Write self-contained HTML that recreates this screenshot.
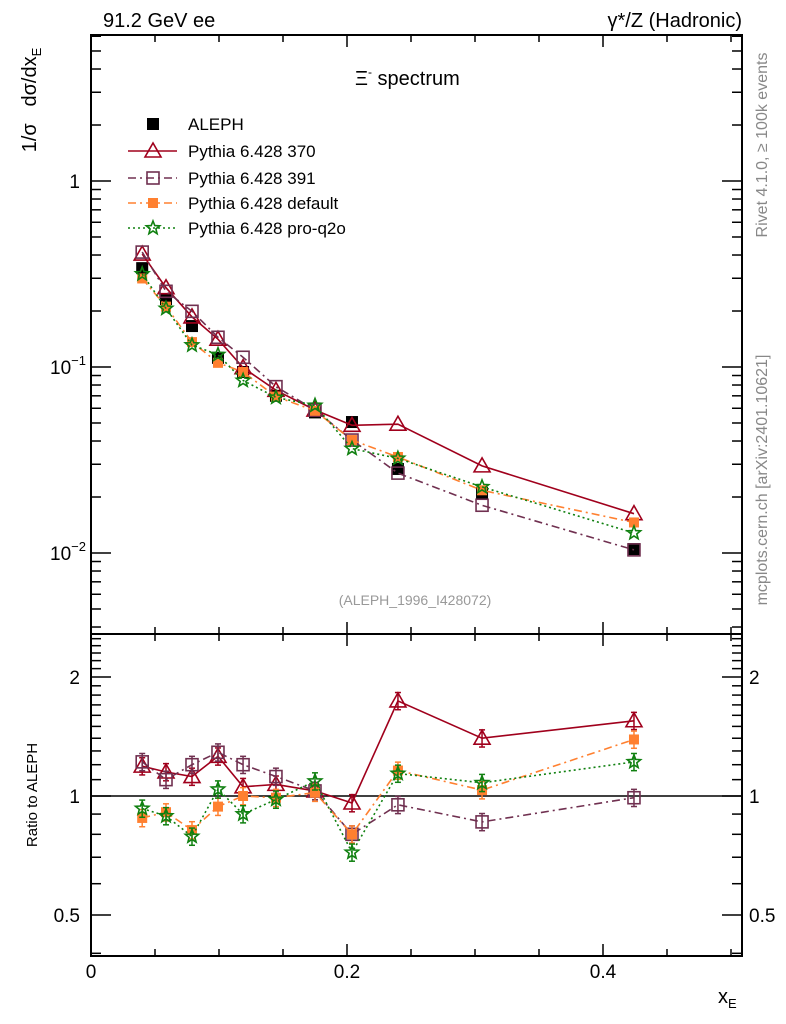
<!DOCTYPE html>
<html><head><meta charset="utf-8">
<style>
html,body{margin:0;padding:0;background:#fff;}
svg{display:block;font-family:"Liberation Sans",Arial,sans-serif;}
</style></head>
<body>
<svg id="chart" width="786" height="1024" viewBox="0 0 786 1024" xmlns="http://www.w3.org/2000/svg">
<text x="103" y="27" font-size="20">91.2 GeV ee</text>
<text x="742" y="27" font-size="20" text-anchor="end">γ*/Z (Hadronic)</text>
<text x="355" y="85" font-size="20">Ξ<tspan font-size="12" dy="-9">-</tspan><tspan dy="9"> spectrum</tspan></text>
<text transform="translate(767,145) rotate(-90)" font-size="16" fill="#888" text-anchor="middle">Rivet 4.1.0, ≥ 100k events</text>
<text transform="translate(767,480) rotate(-90)" font-size="16" fill="#888" text-anchor="middle">mcplots.cern.ch [arXiv:2401.10621]</text>
<text x="415" y="605" font-size="14" fill="#999" text-anchor="middle">(ALEPH_1996_I428072)</text>
<text transform="translate(36,100) rotate(-90)" font-size="20" text-anchor="middle" xml:space="preserve">1/σ   dσ/dx<tspan font-size="13" dy="5">E</tspan></text>
<text transform="translate(37,795) rotate(-90)" font-size="15" text-anchor="middle">Ratio to ALEPH</text>
<text x="718" y="1003" font-size="20">x<tspan font-size="13" dy="5">E</tspan></text>
<g id="g"></g>
</svg>
<script>
const xVals = [0.040,0.0586,0.0789,0.0992,0.1188,0.1445,0.175,0.2039,0.2398,0.3055,0.4242];
const alephVals = [0.340,0.232,0.166,0.112,0.094,0.070,0.057,0.0506,0.0283,0.021,0.0105];
const alephErr = [0.04,0.04,0.04,0.04,0.04,0.05,0.05,0.05,0.06,0.06,0.07];
const ratio370 = [1.19,1.15,1.12,1.26,1.055,1.07,1.03,0.96,1.74,1.40,1.55];
const ratio391 = [1.22,1.10,1.20,1.29,1.20,1.12,1.03,0.80,0.95,0.86,0.99];
const ratioDefault = [0.88,0.91,0.82,0.94,1.0,0.99,1.02,0.80,1.16,1.035,1.39];
const ratioQ2o = [0.93,0.89,0.79,1.04,0.90,0.98,1.09,0.72,1.14,1.08,1.22];
const xTicks = [0,0.2,0.4];
const xTickLabels = ["0","0.2","0.4"];
const ratioTicks = [0.5,1,2];
const ratioTickLabels = ["0.5","1","2"];

const NS="http://www.w3.org/2000/svg";
const g=document.getElementById('g');
const L=91,R=742,T1=35,B1=634,T2=634,B2=956;
const X=v=>L+v*1280;
const Y1=v=>181-186*Math.log10(v);
const Y2=v=>796-119*Math.log2(v);
function mk(tag,at,parent){const e=document.createElementNS(NS,tag);for(const k in at)e.setAttribute(k,at[k]);(parent||g).appendChild(e);return e;}

let f1=mk('rect',{x:L,y:T1,width:R-L,height:B1-T1,fill:'none',stroke:'#000','stroke-width':2});


let f2=mk('rect',{x:L,y:T2,width:R-L,height:B2-T2,fill:'none',stroke:'#000','stroke-width':2});



for(let i=0;i<=10;i++){const v=i*0.05,x=X(v);const maj=(i%4===0);const len=maj?12:7;
  for(const [t,b] of [[T1,B1],[T2,B2]]){
    mk('line',{x1:x,y1:b,x2:x,y2:b-len,stroke:'#000','stroke-width':1.5});
    mk('line',{x1:x,y1:t,x2:x,y2:t+len,stroke:'#000','stroke-width':1.5});
  }}
xTicks.forEach((v,i)=>{const t=mk('text',{x:X(v),y:978,'font-size':19,'text-anchor':'middle'});t.textContent=xTickLabels[i];
  
  });

for(let d=-3;d<=0;d++){for(let m=1;m<=9;m++){const v=m*Math.pow(10,d);const y=Y1(v);if(y<T1||y>B1)continue;const len=m===1?20:10;
  mk('line',{x1:L,y1:y,x2:L+len,y2:y,stroke:'#000','stroke-width':1.5});
  mk('line',{x1:R,y1:y,x2:R-len,y2:y,stroke:'#000','stroke-width':1.5});}}
[[1,'1',''],[0.1,'10','−1'],[0.01,'10','−2']].forEach(([v,b,e])=>{const t=mk('text',{x:80,y:Y1(v)+7,'font-size':19,'text-anchor':'end'});
  
  
  if(e){t.innerHTML=b+'<tspan font-size="13" dy="-9">'+e+'</tspan>';t.setAttribute('x',68);t.setAttribute('text-anchor','middle');}else t.textContent=b;});

for(let k=4;k<=25;k++){const v=k/10;const y=Y2(v);if(y<T2+2||y>B2)continue;const maj=(k===5||k===10||k===20);const len=maj?20:10;
  mk('line',{x1:L,y1:y,x2:L+len,y2:y,stroke:'#000','stroke-width':1.5});
  mk('line',{x1:R,y1:y,x2:R-len,y2:y,stroke:'#000','stroke-width':1.5});}
ratioTicks.forEach((v,i)=>{for(const [x,a] of [[80,'end'],[749,'start']]){const t=mk('text',{x:x,y:Y2(v)+7,'font-size':19,'text-anchor':a});t.textContent=ratioTickLabels[i];
  
  }});
let one=mk('line',{x1:L,y1:Y2(1),x2:R,y2:Y2(1),stroke:'#000','stroke-width':1.5});



function marker(type,x,y,col,parent){
  if(type==='sq') return mk('rect',{x:x-6,y:y-6,width:12,height:12,fill:col},parent);
  if(type==='osq') return mk('rect',{x:x-6,y:y-6,width:12,height:12,fill:'none',stroke:col,'stroke-width':1.6},parent);
  if(type==='fsq') return mk('rect',{x:x-5,y:y-5,width:10,height:10,fill:col},parent);
  if(type==='tri') return mk('polygon',{points:`${x},${y-8} ${x-8},${y+6} ${x+8},${y+6}`,fill:'none',stroke:col,'stroke-width':1.6},parent);
  if(type==='star'){let p=[];for(let i=0;i<10;i++){const r=i%2?3:7,a=-Math.PI/2+i*Math.PI/5;p.push((x+r*Math.cos(a)).toFixed(1)+','+(y+r*Math.sin(a)).toFixed(1));}
    return mk('polygon',{points:p.join(' '),fill:'none',stroke:col,'stroke-width':1.6},parent);}
}
const series=[
  {name:'pythia-370',r:ratio370,col:'#a0001c',dash:'',m:'tri',label:'Pythia 6.428 370'},
  {name:'pythia-391',r:ratio391,col:'#703050',dash:'8,4,2,4',m:'osq',label:'Pythia 6.428 391'},
  {name:'pythia-default',r:ratioDefault,col:'#ff8030',dash:'8,4,2,4',m:'fsq',label:'Pythia 6.428 default'},
  {name:'pythia-pro-q2o',r:ratioQ2o,col:'#108010',dash:'2,3',m:'star',label:'Pythia 6.428 pro-q2o'}
];
const dg=mk('g',{});


xVals.forEach((xv,i)=>{const x=X(xv),v=alephVals[i],e=alephErr[i];
  mk('line',{x1:x,y1:Y1(v*(1+e)),x2:x,y2:Y1(v*(1-e)),stroke:'#000','stroke-width':1.5},dg);
  const p=marker('sq',x,Y1(v),'#000',dg);
  
  });
series.forEach(s=>{
  const up=mk('g',{});
  
  
  const lo=mk('g',{});
  
  
  const pu=xVals.map((xv,i)=>X(xv).toFixed(1)+','+Y1(s.r[i]*alephVals[i]).toFixed(1)).join(' ');
  const pl=xVals.map((xv,i)=>X(xv).toFixed(1)+','+Y2(s.r[i]).toFixed(1)).join(' ');
  mk('polyline',{points:pu,fill:'none',stroke:s.col,'stroke-width':1.6,'stroke-dasharray':s.dash},up);
  mk('polyline',{points:pl,fill:'none',stroke:s.col,'stroke-width':1.6,'stroke-dasharray':s.dash},lo);
  xVals.forEach((xv,i)=>{const x=X(xv),r=s.r[i],e=0.05;
    mk('line',{x1:x,y1:Y2(r*(1+e)),x2:x,y2:Y2(r*(1-e)),stroke:s.col,'stroke-width':1.5},lo);
    mk('line',{x1:x-3,y1:Y2(r*(1+e)),x2:x+3,y2:Y2(r*(1+e)),stroke:s.col,'stroke-width':1.5},lo);
    mk('line',{x1:x-3,y1:Y2(r*(1-e)),x2:x+3,y2:Y2(r*(1-e)),stroke:s.col,'stroke-width':1.5},lo);
    const a=marker(s.m,x,Y1(r*alephVals[i]),s.col,up);
    
    
    const b=marker(s.m,x,Y2(r),s.col,lo);
    
    });
});
const lg=mk('g',{});


const ly=[124,151,178,203,228];
const e0=mk('g',{},lg);


marker('sq',153,ly[0],'#000',e0);
let t0=mk('text',{x:188,y:ly[0]+6,'font-size':17},e0);t0.textContent='ALEPH';
series.forEach((s,i)=>{const y=ly[i+1];const e=mk('g',{},lg);
  
  
  mk('line',{x1:128,y1:y,x2:177,y2:y,stroke:s.col,'stroke-width':1.6,'stroke-dasharray':s.dash},e);
  marker(s.m,153,y,s.col,e);
  const t=mk('text',{x:188,y:y+6,'font-size':17},e);t.textContent=s.label;});
</script>
</body></html>
